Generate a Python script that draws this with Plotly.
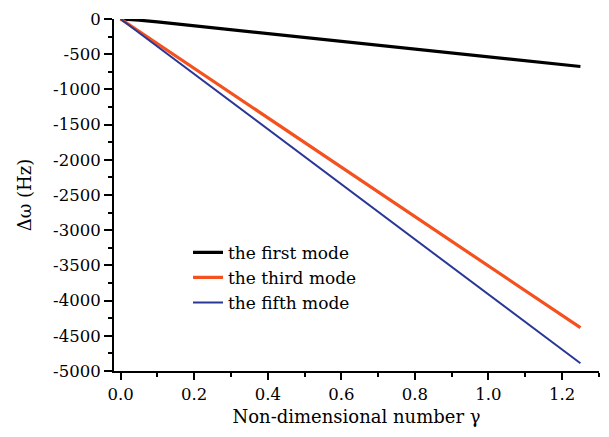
import plotly.graph_objects as go

# Data
gamma_first = [0, 0.025, 0.05, 0.1, 0.2, 0.3, 0.4, 0.5, 0.6, 0.7, 0.8, 0.9, 1.0, 1.1, 1.2, 1.25]
first_mode = [0, -3, -16, -42, -97, -152, -206, -261, -316, -370, -425, -480, -534, -589, -643, -675]

gamma_lin = [0, 0.25, 0.5, 0.75, 1.0, 1.25]
third_mode = [0, -877, -1754, -2631, -3508, -4385]
fifth_mode = [0, -978, -1956, -2934, -3912, -4890]

x_ticks = [0.0, 0.2, 0.4, 0.6, 0.8, 1.0, 1.2]
y_ticks = [0, -500, -1000, -1500, -2000, -2500, -3000, -3500, -4000, -4500, -5000]

FONT = "DejaVu Serif"

fig = go.Figure()
fig.add_trace(go.Scatter(x=gamma_first, y=first_mode, mode="lines", name="the first mode",
                         line=dict(color="#000000", width=3.2)))
fig.add_trace(go.Scatter(x=gamma_lin, y=third_mode, mode="lines", name="the third mode",
                         line=dict(color="#F4511E", width=3.2)))
fig.add_trace(go.Scatter(x=gamma_lin, y=fifth_mode, mode="lines", name="the fifth mode",
                         line=dict(color="#2B3797", width=2)))

fig.update_layout(
    width=609, height=437,
    margin=dict(l=114, r=10, t=15, b=66),
    plot_bgcolor="white", paper_bgcolor="white",
    font=dict(family=FONT, color="black", size=16),
    showlegend=True,
    legend=dict(x=0.1526, y=0.387, xanchor="left", yanchor="top",
                bgcolor="rgba(0,0,0,0)", font=dict(family=FONT, size=17, color="black"),
                tracegroupgap=0),
    xaxis=dict(
        range=[-0.018, 1.3005], showgrid=False, zeroline=False,
        showline=True, linecolor="black", linewidth=2,
        ticks="outside", ticklen=7, tickwidth=2, tickcolor="black",
        tickvals=x_ticks, ticktext=[f"{v:.1f}" for v in x_ticks],
        tickfont=dict(family=FONT, size=16.5),
        minor=dict(dtick=0.1, tick0=0, ticks="outside", ticklen=4, tickwidth=2, tickcolor="black"),
        title=dict(text="Non-dimensional number γ", font=dict(family=FONT, size=18), standoff=8),
    ),
    yaxis=dict(
        range=[-5000, 0], showgrid=False, zeroline=False,
        showline=True, linecolor="black", linewidth=2,
        ticks="outside", ticklen=8, tickwidth=2, tickcolor="black",
        tickvals=y_ticks, ticktext=[str(v) for v in y_ticks],
        tickfont=dict(family=FONT, size=16.5),
        minor=dict(dtick=250, tick0=0, ticks="outside", ticklen=4, tickwidth=2, tickcolor="black"),
        title=dict(text="Δω (Hz)", font=dict(family=FONT, size=18), standoff=17),
    ),
)

fig.write_html("out.html")
